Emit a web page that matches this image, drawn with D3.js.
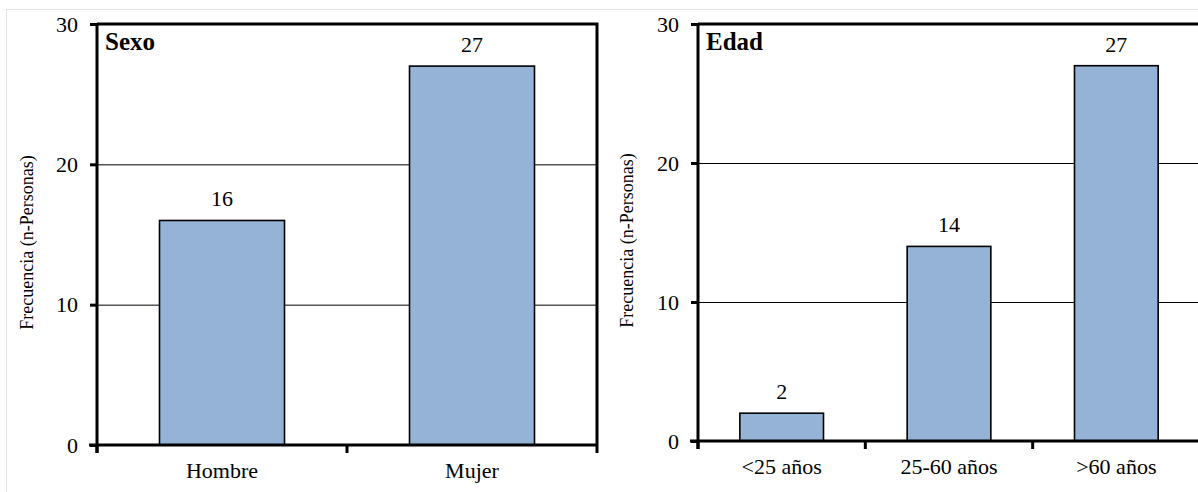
<!DOCTYPE html>
<html>
<head>
<meta charset="utf-8">
<script src="https://cdn.jsdelivr.net/npm/d3@7"></script>
<style>
  html, body { margin: 0; padding: 0; background: #fff; }
  svg { display: block; }
</style>
</head>
<body>
<svg id="chart" width="1198" height="492"></svg>
<script>
// Panel A: sex
const sexoCategories = ["Hombre", "Mujer"];
const sexoValues = [16, 27];
// Panel B: age group
const edadCategories = ["<25 años", "25-60 años", ">60 años"];
const edadValues = [2, 14, 27];
const yTicks = [0, 10, 20, 30];
const yLabel = "Frecuencia (n-Personas)";

const FONT = "\"Liberation Serif\"";
const svg = d3.select("#chart");

// faint outer frame of the figure
svg.append("path")
  .attr("d", "M6.5,492 V9.5 H1198")
  .attr("fill", "none").attr("stroke", "#e4e4e4").attr("stroke-width", 1);

function panel(cfg) {
  const { left, right, top, bottom, categories, values, title, labelX } = cfg;
  const g = svg.append("g");
  const x = d3.scaleBand().domain(categories).range([left, right]).paddingInner(0.5).paddingOuter(0.25);
  const y = d3.scaleLinear().domain([0, 30]).range([bottom, top]);

  // horizontal gridlines
  g.selectAll("line.grid").data(yTicks.filter(t => t > 0 && t < 30)).join("line")
    .attr("x1", left).attr("x2", right)
    .attr("y1", d => y(d) + 0.5).attr("y2", d => y(d) + 0.5)
    .attr("stroke", "#000").attr("stroke-width", 1);

  // bars
  g.selectAll("rect.bar").data(values).join("rect")
    .attr("x", (d, i) => x(categories[i]))
    .attr("y", d => y(d))
    .attr("width", x.bandwidth())
    .attr("height", d => y(0) - y(d))
    .attr("fill", "#95b3d7").attr("stroke", "#000").attr("stroke-width", 1.6);

  // value labels
  g.selectAll("text.val").data(values).join("text")
    .attr("x", (d, i) => x(categories[i]) + x.bandwidth() / 2)
    .attr("y", d => y(d) - 14)
    .attr("text-anchor", "middle")
    .style("font-family", FONT).style("font-size", "22px")
    .text(d => d);

  // frame: top and right
  g.append("path")
    .attr("d", `M${left},${top} H${right} V${bottom}`)
    .attr("fill", "none").attr("stroke", "#000").attr("stroke-width", 3);

  // y axis
  const yAxis = d3.axisLeft(y).tickValues(yTicks).tickSize(7).tickPadding(12).tickFormat(d3.format("d"));
  const ya = g.append("g").attr("transform", `translate(${left},0)`).call(yAxis);
  ya.select(".domain").attr("stroke-width", 3).attr("d", `M0,${top}V${bottom + 8}`);
  ya.selectAll(".tick line").attr("stroke-width", 3);
  ya.selectAll(".tick text").style("font-family", FONT).style("font-size", "22px");

  // x axis with ticks at category boundaries
  const bounds = d3.range(categories.length + 1).map(i => left + i * (right - left) / categories.length);
  g.append("line").attr("x1", left - 8).attr("x2", right).attr("y1", bottom).attr("y2", bottom)
    .attr("stroke", "#000").attr("stroke-width", 3);
  g.selectAll("line.xt").data(bounds).join("line")
    .attr("x1", d => d).attr("x2", d => d).attr("y1", bottom).attr("y2", bottom + 8)
    .attr("stroke", "#000").attr("stroke-width", 3);
  g.selectAll("text.cat").data(categories).join("text")
    .attr("x", d => x(d) + x.bandwidth() / 2)
    .attr("y", bottom + 33)
    .attr("text-anchor", "middle")
    .style("font-family", FONT).style("font-size", "22px")
    .text(d => d);

  // panel title
  g.append("text").attr("x", left + 8).attr("y", top + 26)
    .style("font-family", FONT).style("font-size", "25px").style("font-weight", "bold")
    .text(title);

  // y axis title
  g.append("text")
    .attr("transform", `translate(${labelX},${(top + bottom) / 2 + 8}) rotate(-90)`)
    .attr("text-anchor", "middle")
    .style("font-family", FONT).style("font-size", "18px")
    .text(yLabel);
}

panel({ left: 97, right: 597, top: 24, bottom: 445, categories: sexoCategories, values: sexoValues, title: "Sexo", labelX: 33 });
panel({ left: 698, right: 1200, top: 24, bottom: 441, categories: edadCategories, values: edadValues, title: "Edad", labelX: 633 });
</script>
</body>
</html>
